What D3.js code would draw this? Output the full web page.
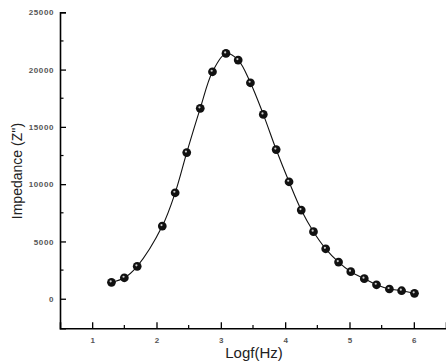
<!DOCTYPE html>
<html><head><meta charset="utf-8">
<script src="https://cdn.jsdelivr.net/npm/d3@7"></script>
<style>body{margin:0;background:#fff}svg{display:block}</style>
</head><body>
<svg id="c" width="446" height="364"></svg>
<script>
const logf = [1.30,1.50,1.70,2.09,2.29,2.47,2.68,2.87,3.08,3.27,3.46,3.66,3.86,4.06,4.25,4.44,4.63,4.83,5.02,5.23,5.42,5.62,5.81,6.01];
const impedance = [1430,1830,2830,6340,9250,12760,16620,19810,21410,20830,18850,16090,13020,10210,7740,5850,4360,3200,2360,1750,1220,850,700,470];
const xTicks = [1,2,3,4,5,6];
const yTicks = [0,5000,10000,15000,20000,25000];
const xLabel = "Logf(Hz)";
const yLabel = "Impedance (Z'')";

const font = "Liberation Sans, Arial, sans-serif";
const svg = d3.select("#c");
const x = d3.scaleLinear().domain([0.5,6.5]).range([60,446]);
const y = d3.scaleLinear().domain([-2580,25000]).range([328.3,12.3]);

const xAxis = d3.axisBottom(x).tickValues(xTicks).tickSize(-6).tickPadding(9).tickFormat(d3.format("d"));
const gx = svg.append("g").attr("transform","translate(0,328.3)").call(xAxis);
gx.selectAll(".tick line").attr("stroke","#000").attr("stroke-width",1.3);
gx.select(".domain").attr("stroke","#000").attr("stroke-width",1.6);
gx.selectAll("text").attr("font-family",font).attr("font-size",8).attr("font-weight","bold").attr("fill","#555");
svg.append("g").selectAll("line").data([1.5,2.5,3.5,4.5,5.5]).join("line")
  .attr("x1",d=>x(d)).attr("x2",d=>x(d)).attr("y1",328.3).attr("y2",325).attr("stroke","#000").attr("stroke-width",1.2);

const yAxis = d3.axisLeft(y).tickValues(yTicks).tickSize(-6).tickPadding(6).tickFormat(d3.format("d"));
const gy = svg.append("g").attr("transform","translate(60,0)").call(yAxis);
gy.selectAll(".tick line").attr("stroke","#000").attr("stroke-width",1.3);
gy.select(".domain").attr("stroke","#000").attr("stroke-width",1.6);
gy.selectAll("text").attr("font-family",font).attr("font-size",8).attr("font-weight","bold").attr("letter-spacing",0.6).attr("fill","#555");
svg.append("g").selectAll("line").data([2500,7500,12500,17500,22500]).join("line")
  .attr("x1",60).attr("x2",63.5).attr("y1",d=>y(d)).attr("y2",d=>y(d)).attr("stroke","#000").attr("stroke-width",1.2);

svg.append("text").attr("x",254).attr("y",358).attr("text-anchor","middle")
  .attr("font-family",font).attr("font-size",15).attr("fill","#222").text(xLabel);
svg.append("text").attr("transform","translate(22,171) rotate(-90)").attr("text-anchor","middle")
  .attr("font-family",font).attr("font-size",14).attr("fill","#222").text(yLabel);

const data = logf.map((v,i)=>({x:v,y:impedance[i]}));
svg.append("path").datum(data).attr("fill","none").attr("stroke","#111").attr("stroke-width",1.1)
  .attr("d",d3.line().x(d=>x(d.x)).y(d=>y(d.y)).curve(d3.curveCatmullRom));
const sym = d3.symbol().type(d3.symbolCircle).size(60);
const g = svg.append("g").selectAll("g").data(data).join("g").attr("transform",d=>`translate(${x(d.x)},${y(d.y)})`);
g.append("path").attr("d",sym).attr("fill","#111");
g.append("circle").attr("cx",-0.8).attr("cy",-1).attr("r",1.1).attr("fill","#ccc");
</script>
</body></html>
